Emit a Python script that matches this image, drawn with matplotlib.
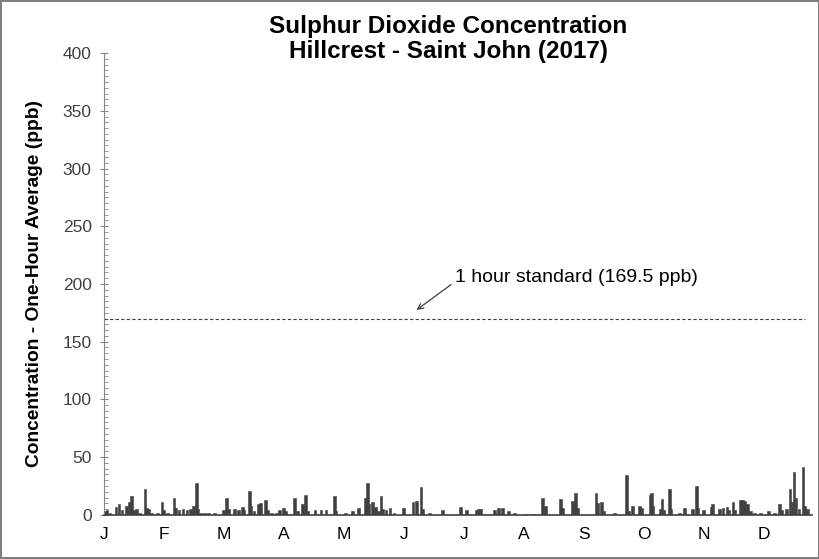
import matplotlib.pyplot as plt
import numpy as np
from matplotlib.ticker import MultipleLocator

# SO2 one-hour peaks: day of year, ppb
spike_days = [0.5, 1.5, 3, 6, 7.5, 9, 11.5, 12.7, 14, 15, 16.6, 18, 20.7, 21.5, 22.8, 24, 27,
              29.4, 30.2, 32, 35.5, 36.2, 38, 40, 42, 44, 45.5, 46.7, 47.5, 49, 51, 53, 56,
              60.5, 62, 63, 66, 68, 70, 71, 73.6, 74.3, 76, 78.5, 79.5, 82, 83, 85,
              87.5, 89, 90.9, 92, 96.4, 98, 100.5, 102, 103, 107, 110, 112.5, 116.8, 117.5,
              122.5, 126, 129, 132.5, 133.5, 134.2, 136, 137.6, 139, 140.4, 141.2, 143, 145, 147,
              152, 156.7, 158.3, 160.7, 161.5, 165, 171.6,
              180.7, 184, 189, 190, 191, 198, 200, 202, 205, 208,
              214, 218, 222.5, 224, 231.5, 232.5, 237.5, 239, 240, 249.5, 250.5, 252.5, 253.5, 259,
              265, 266, 268, 271.6, 272.8, 277, 277.8, 278.5, 282, 283, 284, 286.8, 287.5, 292,
              294.5, 298.5, 300.5, 301.2, 304, 308, 308.8, 312, 314, 316, 317, 319, 320,
              323, 324, 325, 326.5, 328, 330, 333, 337, 340, 342.6, 343.5, 346, 348, 349, 350,
              351, 352.5, 354.5, 355.3, 357]
spike_ppb = [3, 4, 2, 7, 9, 4, 8, 11, 16.5, 4, 5, 2, 22.5, 6, 5, 2, 1.5,
             11, 4, 2, 15, 6, 4, 5, 4, 5, 8, 28, 5, 2, 1.5, 1.5, 2,
             4, 15, 5, 5, 4, 7, 4, 21, 8, 3, 9, 10, 12.5, 4, 2,
             2, 4, 6, 3, 15, 3, 9, 17, 3, 4, 4, 4, 16.5, 3,
             2, 3, 5.5, 15, 28, 9, 11, 7, 3, 16, 5, 4, 6, 2,
             6, 11, 12, 24.5, 5, 1.5, 4,
             7, 4, 4, 5, 5, 4, 5.5, 6, 3, 1.5,
             1, 1, 15, 8, 13.5, 6, 12, 19, 6, 19, 10, 11.5, 3, 1.5,
             34.6, 3, 8, 7.5, 6, 17, 19, 8, 5, 14, 4, 22.5, 5, 2,
             6, 5, 25.4, 6, 4, 7, 9, 5, 6, 7, 4, 11, 4,
             12.5, 12.5, 12, 9, 3, 2, 2, 3, 2, 9, 4, 5, 22.5, 11, 37,
             15, 5, 41.3, 8, 5]

months = ['J', 'F', 'M', 'A', 'M', 'J', 'J', 'A', 'S', 'O', 'N', 'D']
standard = 169.5
font = 'Liberation Sans'

fig = plt.figure(figsize=(8.2, 5.59), dpi=100)
fig.patch.set_edgecolor('#7f7f7f')
fig.patch.set_linewidth(1.5)
ax = fig.add_axes([0.127, 0.079, 0.863, 0.826])

ax.bar(spike_days, spike_ppb, width=1.4, color='#404040', edgecolor='#404040', linewidth=0.4)
ax.axhline(standard, xmin=0, xmax=0.99, color='#404040', linestyle=(0, (3, 2)), linewidth=0.8)

# arrow and label drawn separately so the tail sits at the text's lower left
ax.annotate('', xy=(158.5, 177.5), xytext=(176, 199.5),
            arrowprops=dict(arrowstyle='->', color='#404040', lw=0.9,
                            shrinkA=0, shrinkB=0))
ax.text(178, 205.5, '1 hour standard (169.5 ppb)', fontsize=14, family=font,
        color='black', va='center', ha='left')

ax.set_xlim(0, 359)
ax.set_ylim(0, 400)
ax.set_xticks(np.arange(12) * 365 / 12)
ax.set_xticklabels(months)
ax.yaxis.set_major_locator(MultipleLocator(50))
ax.yaxis.set_minor_locator(MultipleLocator(5))

for s in ['top', 'right']:
    ax.spines[s].set_visible(False)
ax.spines['left'].set_color('#868686')
ax.spines['bottom'].set_color('#404040')
ax.spines['bottom'].set_linewidth(1.2)

ax.tick_params(axis='x', length=0, pad=9, labelsize=12.5, labelcolor='black')
ax.tick_params(axis='y', which='major', direction='inout', length=6, color='#868686',
               labelsize=12.5, labelcolor='#404040', pad=6)
ax.tick_params(axis='y', which='minor', direction='in', length=3, color='#868686')
for lab in ax.get_xticklabels() + ax.get_yticklabels():
    lab.set_family(font)

ax.set_ylabel('Concentration - One-Hour Average (ppb)', fontsize=13.8, fontweight='bold',
              family=font, labelpad=14)

fig.text(0.547, 0.953, 'Sulphur Dioxide Concentration', ha='center', va='center',
         fontsize=17.5, fontweight='bold', family=font)
fig.text(0.547, 0.907, 'Hillcrest - Saint John (2017)', ha='center', va='center',
         fontsize=17.5, fontweight='bold', family=font)

fig.savefig('out.png', dpi=100, edgecolor=fig.get_edgecolor())
